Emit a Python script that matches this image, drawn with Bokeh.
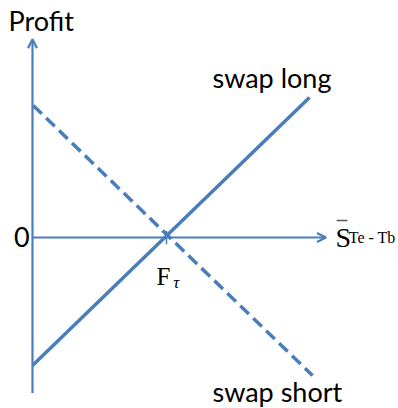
from bokeh.plotting import figure
from bokeh.models import Range1d, Arrow, OpenHead
from bokeh.core.properties import value
from bokeh.embed import file_html
from bokeh.resources import INLINE

# Data (units: forward price F = 1)
F = 1.0
long_S = [0.0, 2.067]
long_profit = [-0.955, 1.045]
short_S = [0.005, 2.09]
short_profit = [0.985, -1.03]
axis_x_end = 2.19
axis_y_top = 1.48
axis_y_bottom = -1.16

BLUE = "#4a7ebb"
U = 134.0  # pixels per unit

p = figure(width=398, height=408, output_backend="svg", toolbar_location=None,
           x_range=Range1d(-32 / U, 366 / U), y_range=Range1d(-171 / U, 237 / U),
           x_axis_location=None, y_axis_location=None, min_border=0)
p.grid.visible = False
p.outline_line_color = None
p.background_fill_color = "white"
p.border_fill_color = "white"

# axes with arrows
p.add_layout(Arrow(end=OpenHead(size=9, line_color=BLUE, line_width=2.2),
                   x_start=0, y_start=axis_y_bottom, x_end=0, y_end=axis_y_top,
                   line_color=BLUE, line_width=2.2))
p.add_layout(Arrow(end=OpenHead(size=9, line_color=BLUE, line_width=2.2),
                   x_start=0, y_start=0, x_end=axis_x_end, y_end=0,
                   line_color=BLUE, line_width=2.2))
# small tick at F
p.segment(x0=[F], y0=[-0.05], x1=[F], y1=[0.05], line_color=BLUE, line_width=1.5)

# payoff lines
p.line(long_S, long_profit, line_color=BLUE, line_width=3.5)
p.line(short_S, short_profit, line_color=BLUE, line_width=3.5, line_dash="12 6")

sans = value("Lato")
serif = value("Liberation Serif")
d = 9 / U

p.text(x=[-0.179], y=[1.552 + d], text=["Profit"], text_font=sans, text_font_size="27px",
       text_baseline="alphabetic", text_color="black")
p.text(x=[1.343], y=[1.127 + d], text=["swap long"], text_font=sans, text_font_size="27px",
       text_baseline="alphabetic", text_color="black")
p.text(x=[1.343], y=[-1.215 + d], text=["swap short"], text_font=sans, text_font_size="27px",
       text_baseline="alphabetic", text_color="black")
p.text(x=[-0.022], y=[-0.06 + d], text=["0"], text_font=sans, text_font_size="27px",
       text_baseline="alphabetic", text_align="right", text_color="black")

# F_tau
p.text(x=[0.925], y=[-0.358 + d], text=["F"], text_font=serif, text_font_size="25px",
       text_baseline="alphabetic", text_color="black")
p.text(x=[1.05], y=[-0.40 + d], text=["τ"], text_font=serif, text_font_size="17px",
       text_font_style="italic", text_baseline="alphabetic", text_color="black")

# S bar with subscript
p.text(x=[2.261], y=[-0.067 + d], text=["S"], text_font=serif, text_font_size="28px",
       text_baseline="alphabetic", text_color="black")
p.segment(x0=[2.27], y0=[0.127], x1=[2.35], y1=[0.127], line_color="#555555", line_width=1.5)
p.text(x=[2.36], y=[-0.067 + d], text=["Te - Tb"], text_font=serif, text_font_size="16px",
       text_baseline="alphabetic", text_color="black")

open("out.html", "w").write(file_html(p, INLINE))
